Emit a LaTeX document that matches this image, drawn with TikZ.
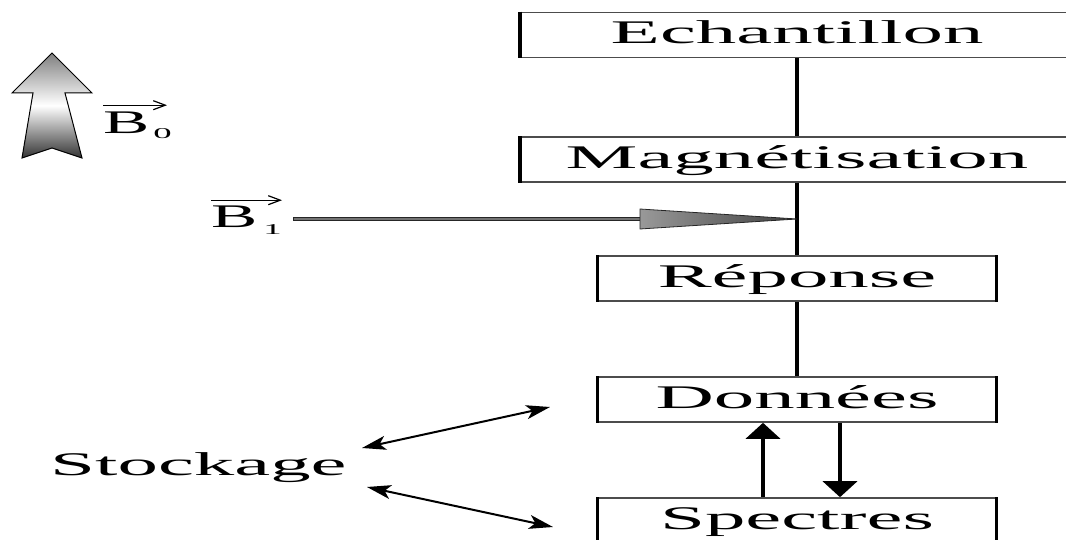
\documentclass[tikz,border=0pt]{standalone}
\usepackage{fontspec}
\setmainfont{Liberation Serif}
\usepackage{graphicx}
\usetikzlibrary{arrows.meta,calc}

\newcommand\stretched[1]{\scalebox{2.45}[1]{#1}}
\newcommand\bigfont{\fontsize{33}{38}\selectfont}
\newcommand\subfont{\fontsize{15}{18}\selectfont}

\begin{document}
\begin{tikzpicture}[x=1pt,y=-1pt,
  box/.style={draw=black!70,line width=1.6pt,inner sep=0pt,minimum height=45pt,
    text height=24pt,text depth=6pt,font=\bigfont},
  link/.style={line width=4pt},
  flow/.style={line width=4.5pt,-{Triangle[length=16pt,width=34pt]}},
  store/.style={line width=2pt,{Stealth[length=24pt,width=14pt,inset=6pt]}-{Stealth[length=24pt,width=14pt,inset=6pt]}},
  vec/.style={line width=1.2pt,-{Straight Barb[length=12pt,width=9pt]}},
  lab/.style={anchor=base west,inner sep=0pt,font=\bigfont}]
\useasboundingbox (0,0) rectangle (1066,540);
\clip (0,0) rectangle (1066,540);

% chain of boxes
\node[box,minimum width=552pt] (ech) at (797,35) {\stretched{Echantillon}};
\node[box,minimum width=552pt] (mag) at (797,159.5) {\stretched{Magnétisation}};
\node[box,minimum width=397pt] (rep) at (797,278.5) {\stretched{Réponse}};
\node[box,minimum width=397pt] (don) at (797,399.5) {\stretched{Données}};
\node[box,minimum width=397pt] (spe) at (797,520.5) {\stretched{Spectres}};
\foreach \n in {ech,mag,rep,don,spe}
  \draw[line width=3.5pt] (\n.north west) -- (\n.south west) (\n.north east) -- (\n.south east);

\draw[link] (ech) -- (mag);
\draw[link] (mag) -- (rep);
\draw[link] (rep) -- (don);
\draw[flow] ([xshift=-34pt]spe.north) -- ([xshift=-34pt]don.south);
\draw[flow] ([xshift=43pt]don.south) -- ([xshift=43pt]spe.north);

% static field
\shade[top color=black!50,bottom color=black!80,middle color=white,draw=black,line width=1pt]
  (52,53) -- (92,93) -- (65,93) -- (82,158) -- (52,148) -- (22,158) -- (33,93) -- (12,93) -- cycle;
\node[lab] (b0) at (103,134) {\scalebox{2.1}[1]{B}\hspace{4pt}\raisebox{-5pt}{\subfont\stretched{0}}};
\draw[vec] ([yshift=7pt]b0.north west) -- ([yshift=7pt,xshift=-5pt]b0.north east);

% pulse
\node[lab] (b1) at (211,228) {\scalebox{2.1}[1]{B}\hspace{6pt}\raisebox{-7pt}{\subfont\stretched{1}}};
\draw[vec] ([yshift=6pt]b1.north west) -- ([yshift=6pt]b1.north east);
\coordinate (hit) at ($(mag.south)!0.5!(rep.north)$);
\path (hit) ++(-157,0) coordinate (b1head);
\path (hit) ++(-504,0) coordinate (b1tail);
\filldraw[fill=black!55,draw=black!85,line width=0.6pt] ($(b1tail)+(0,-1.3)$) rectangle ($(b1head)+(0,1.3)$);
\shade[left color=black!40,right color=black!75,draw=black!85,line width=0.8pt]
  ($(b1head)+(0,-10)$) -- (hit) -- ($(b1head)+(0,10)$) -- cycle;

% storage
\node[lab] (stock) at (50,475) {\stretched{Stockage}};
\coordinate (s1) at (362,448);
\coordinate (d1) at (550,407);
\coordinate (s2) at (367,487);
\coordinate (d2) at (553,527);
\draw[store] (s1) -- (d1);
\draw[store] (s2) -- (d2);
\end{tikzpicture}
\end{document}
